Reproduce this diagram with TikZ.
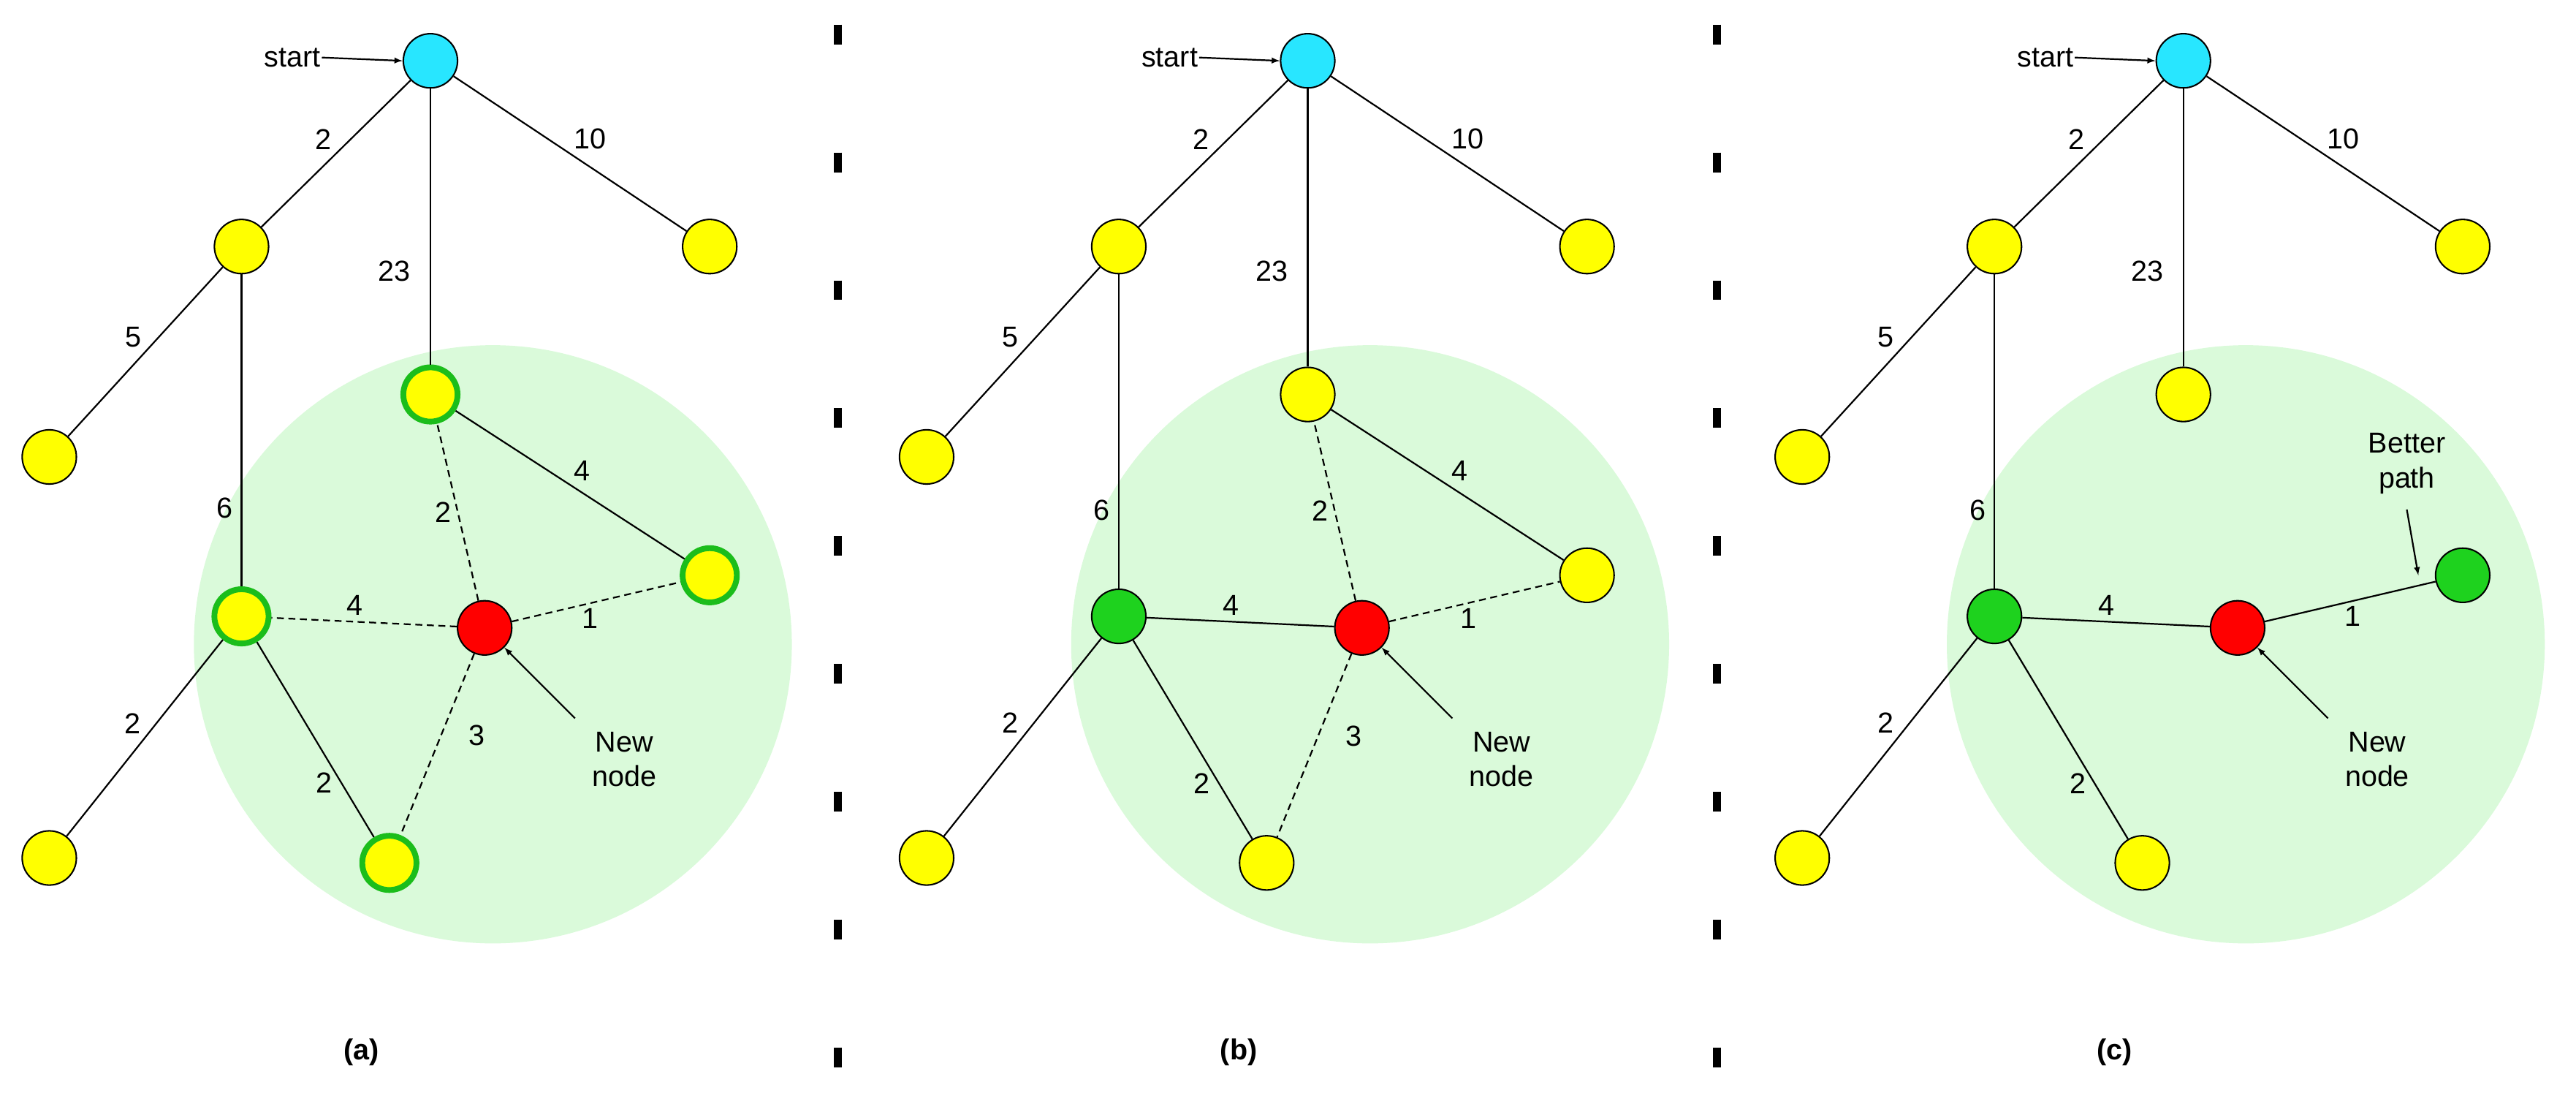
\documentclass[tikz,border=0pt]{standalone}
\usepackage{fontspec}
\setmainfont{Liberation Sans}
\definecolor{cyn}{RGB}{40,230,255}
\definecolor{grn}{RGB}{30,210,30}
\definecolor{ylw}{RGB}{255,255,0}
\definecolor{rd}{RGB}{255,0,0}
\definecolor{zone}{RGB}{218,250,218}
\begin{document}
\begin{tikzpicture}[x=0.05cm,y=-0.05cm,
  nd/.style={circle,draw=black,line width=1.3pt,minimum size=1.65cm,inner sep=0pt},
  Y/.style={nd,fill=ylw},
  C/.style={nd,fill=cyn},
  G/.style={nd,fill=grn},
  R/.style={nd,fill=rd},
  hl/.style={nd,fill=ylw,draw=grn!90!black,line width=5pt},
  ed/.style={line width=1.4pt},
  da/.style={line width=1.4pt,dash pattern=on 6pt off 4pt},
  lb/.style={font=\fontsize{25}{30}\selectfont,inner sep=1pt},
  ar/.style={line width=1.4pt,-latex},
  sep/.style={line width=0.25cm,dash pattern=on 0.6cm off 3.29cm}]
\useasboundingbox (0,0) rectangle (1568,665);
\newcommand\mytree[1]{%
  \node[C] (#1s) at (262,37) {};
  \node[Y] (#1l) at (147,150) {};
  \node[Y] (#1r) at (432,150) {};
  \node[Y] (#1ll) at (30,278) {};
  \node[Y] (#1bl) at (30,522) {};
  \draw[ed] (#1s)--(#1l) node[lb,pos=0.5,above left=2pt]{2};
  \draw[ed] (#1s)--(#1r) node[lb,pos=0.5,above right=2pt]{10};
  \draw[ed] (#1l)--(#1ll) node[lb,pos=0.5,above left=2pt]{5};
  \node[lb] at (178,35) (#1st) {start};
  \draw[ar] (#1st.east) -- (#1s.west);
}
% circles
\foreach \o in {0,534,1067}{\fill[zone] (\o+300,392) circle [radius=9.1cm];}
% separators
\draw[sep] (510,15)--(510,665);
\draw[sep] (1045,15)--(1045,665);
% ---------- (a)
\begin{scope}
  \node[hl] (aa) at (262,240) {};
  \node[hl] (ag) at (147,375) {};
  \node[hl] (ar1) at (432,350) {};
  \node[hl] (ab) at (237,525) {};
  \node[R] (ax) at (295,382) {};
  \mytree{a}
  \node[lb] at (240,165) {23};
  \draw[ed] (as)--(aa);
  \draw[ed] (al)--(ag) node[lb,pos=0.75,left=6pt]{6};
  \draw[ed] (ag)--(abl) node[lb,pos=0.5,above left=2pt]{2};
  \draw[ed] (ag)--(ab) node[lb,pos=0.72,left=6pt]{2};
  \draw[ed] (aa)--(ar1) node[lb,pos=0.5,above right=2pt]{4};
  \draw[da] (ax)--(aa) node[lb,pos=0.5,left=4pt]{2};
  \draw[da] (ax)--(ag) node[lb,pos=0.55,above=4pt]{4};
  \draw[da] (ax)--(ar1) node[lb,pos=0.4,below right=1pt]{1};
  \draw[da] (ax)--(ab) node[lb,pos=0.45,right=22pt]{3};
  \node[lb,align=center] (an) at (380,462) {New\\node};
  \draw[ar] (350,437)--(ax);
  \node[lb,font=\fontsize{25}{30}\selectfont\bfseries] at (220,640) {(a)};
\end{scope}
% ---------- (b)
\begin{scope}[xshift=534*0.05cm]
  \node[Y] (ba) at (262,240) {};
  \node[G] (bg) at (147,375) {};
  \node[Y] (br1) at (432,350) {};
  \node[Y] (bb) at (237,525) {};
  \node[R] (bx) at (295,382) {};
  \mytree{b}
  \node[lb] at (240,165) {23};
  \draw[ed] (bs)--(ba);
  \draw[ed] (bl)--(bg) node[lb,pos=0.75,left=6pt]{6};
  \draw[ed] (bg)--(bbl) node[lb,pos=0.5,above left=2pt]{2};
  \draw[ed] (bg)--(bb) node[lb,pos=0.72,left=6pt]{2};
  \draw[ed] (ba)--(br1) node[lb,pos=0.5,above right=2pt]{4};
  \draw[da] (bx)--(ba) node[lb,pos=0.5,left=4pt]{2};
  \draw[ed] (bx)--(bg) node[lb,pos=0.55,above=4pt]{4};
  \draw[da] (bx)--(br1) node[lb,pos=0.4,below right=1pt]{1};
  \draw[da] (bx)--(bb) node[lb,pos=0.45,right=22pt]{3};
  \node[lb,align=center] (bn) at (380,462) {New\\node};
  \draw[ar] (350,437)--(bx);
  \node[lb,font=\fontsize{25}{30}\selectfont\bfseries] at (220,640) {(b)};
\end{scope}
% ---------- (c)
\begin{scope}[xshift=1067*0.05cm]
  \node[Y] (ca) at (262,240) {};
  \node[G] (cg) at (147,375) {};
  \node[G] (cr1) at (432,350) {};
  \node[Y] (cb) at (237,525) {};
  \node[R] (cx) at (295,382) {};
  \mytree{c}
  \node[lb] at (240,165) {23};
  \draw[ed] (cs)--(ca);
  \draw[ed] (cl)--(cg) node[lb,pos=0.75,left=6pt]{6};
  \draw[ed] (cg)--(cbl) node[lb,pos=0.5,above left=2pt]{2};
  \draw[ed] (cg)--(cb) node[lb,pos=0.72,left=6pt]{2};
  \draw[ed] (cx)--(cg) node[lb,pos=0.55,above=4pt]{4};
  \draw[ed] (cx)--(cr1) node[lb,pos=0.45,below right=1pt]{1};
  \node[lb,align=center] (cbp) at (398,282) {Better\\path};
  \draw[ar] (398,310)--(405,350);
  \node[lb,align=center] (cn) at (380,462) {New\\node};
  \draw[ar] (350,437)--(cx);
  \node[lb,font=\fontsize{25}{30}\selectfont\bfseries] at (220,640) {(c)};
\end{scope}
\end{tikzpicture}
\end{document}
